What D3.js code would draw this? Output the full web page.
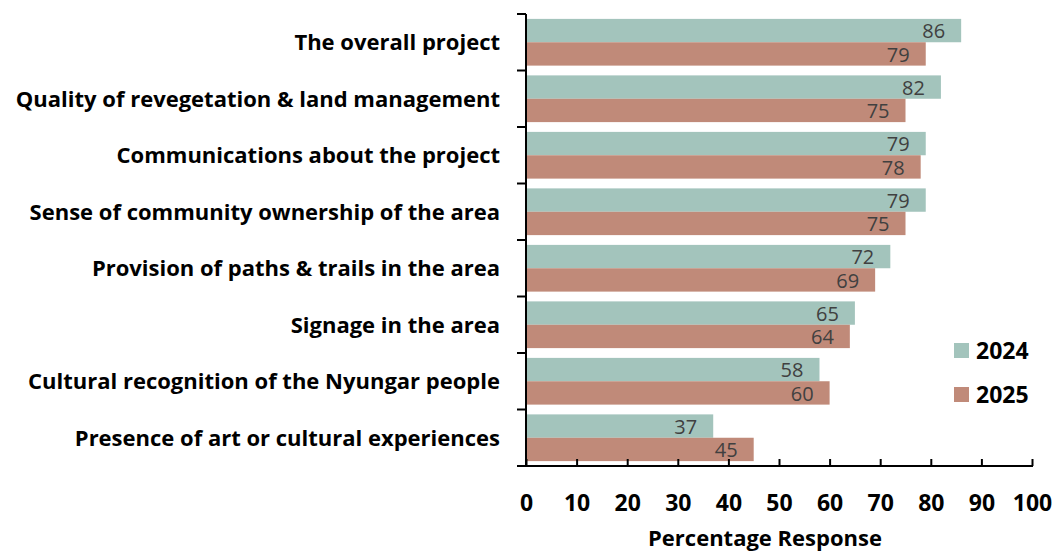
<!DOCTYPE html>
<head>
  <meta charset="utf-8">
  <script src="https://cdn.jsdelivr.net/npm/d3@7"></script>
  <style>
    body { margin:0; background:#fff; }
    svg { display:block; font-family: "Open Sans", sans-serif; }
  </style>
</head>
<body>
  <script>
    var categories = [
      "The overall project",
      "Quality of revegetation & land management",
      "Communications about the project",
      "Sense of community ownership of the area",
      "Provision of paths & trails in the area",
      "Signage in the area",
      "Cultural recognition of the Nyungar people",
      "Presence of art or cultural experiences"
    ];
    var values2024 = [86, 82, 79, 79, 72, 65, 58, 37];
    var values2025 = [79, 75, 78, 75, 69, 64, 60, 45];
    var seriesNames = ["2024", "2025"];
    var seriesColors = ["#a3c4bc", "#c08a79"];
    var xTicks = [0, 10, 20, 30, 40, 50, 60, 70, 80, 90, 100];

    var W = 1055, H = 552;
    var plotL = 526, plotR = 1032, plotT = 14, plotB = 466;

    var svg = d3.select("body").append("svg")
      .attr("width", W).attr("height", H);

    var x = d3.scaleLinear().domain([0, 100]).range([plotL, plotR]);
    var y = d3.scaleBand().domain(categories).range([plotT, plotB]).paddingInner(0.173).paddingOuter(0.0865);
    var ySub = d3.scaleBand().domain(seriesNames).range([0, y.bandwidth()]);

    var rows = categories.map(function(c, i){
      return {cat: c, vals: [values2024[i], values2025[i]]};
    });

    var g = svg.selectAll("g.row").data(rows).enter().append("g")
      .attr("class", "row")
      .attr("transform", function(d){ return "translate(0," + y(d.cat) + ")"; });

    g.selectAll("rect").data(function(d){ return d.vals.map(function(v, j){ return {v: v, s: seriesNames[j], j: j}; }); })
      .enter().append("rect")
      .attr("x", x(0))
      .attr("y", function(d){ return ySub(d.s); })
      .attr("width", function(d){ return x(d.v) - x(0); })
      .attr("height", ySub.bandwidth())
      .attr("fill", function(d){ return seriesColors[d.j]; });

    g.selectAll("text.val").data(function(d){ return d.vals.map(function(v, j){ return {v: v, s: seriesNames[j]}; }); })
      .enter().append("text")
      .attr("class", "val")
      .attr("x", function(d){ return x(d.v) - 16; })
      .attr("y", function(d){ return ySub(d.s) + ySub.bandwidth() / 2 + 0.5; })
      .attr("dy", "0.36em")
      .attr("text-anchor", "end")
      .attr("fill", "#404040")
      .style("font-size", "20px")
      .text(function(d){ return d.v; });

    // category labels
    svg.selectAll("text.cat").data(categories).enter().append("text")
      .attr("class", "cat")
      .attr("x", 500)
      .attr("y", function(d){ return y(d) + y.bandwidth() / 2; })
      .attr("dy", "0.36em")
      .attr("text-anchor", "end")
      .style("font-size", "22px").style("font-weight", "bold")
      .text(function(d){ return d; });

    // y axis line + ticks at band boundaries
    var step = (plotB - plotT) / categories.length;
    svg.append("line").attr("x1", plotL).attr("x2", plotL).attr("y1", plotT).attr("y2", plotB)
      .attr("stroke", "#000").attr("stroke-width", 2);
    svg.selectAll("line.yt").data(d3.range(categories.length + 1)).enter().append("line")
      .attr("x1", plotL - 9).attr("x2", plotL)
      .attr("y1", function(i){ return plotT + i * step; })
      .attr("y2", function(i){ return plotT + i * step; })
      .attr("stroke", "#000").attr("stroke-width", 2);

    // x axis
    var xAxis = svg.append("g").attr("transform", "translate(0," + plotB + ")")
      .call(d3.axisBottom(x).tickValues(xTicks).tickSize(-7).tickPadding(29).tickFormat(d3.format("d")));
    xAxis.select(".domain").attr("stroke-width", 2).attr("d", "M" + (plotL - 1) + ",0H" + (plotR + 1));
    xAxis.selectAll(".tick line").attr("stroke-width", 2);
    xAxis.selectAll("text").style("font-size", "23px").style("font-weight", "bold")
      .style("font-family", "'Open Sans', sans-serif").attr("fill", "#000");

    svg.append("text").attr("x", 765).attr("y", 546)
      .attr("text-anchor", "middle")
      .style("font-size", "22px").style("font-weight", "bold")
      .text("Percentage Response");

    // legend
    var leg = svg.selectAll("g.leg").data(seriesNames).enter().append("g")
      .attr("transform", function(d, i){ return "translate(954," + (350.5 + i * 44) + ")"; });
    leg.append("rect").attr("x", 0).attr("y", -7.5).attr("width", 15).attr("height", 15)
      .attr("fill", function(d, i){ return seriesColors[i]; });
    leg.append("text").attr("x", 22).attr("y", 0).attr("dy", "0.36em")
      .style("font-size", "23px").style("font-weight", "bold")
      .text(function(d){ return d; });
  </script>
</body>
